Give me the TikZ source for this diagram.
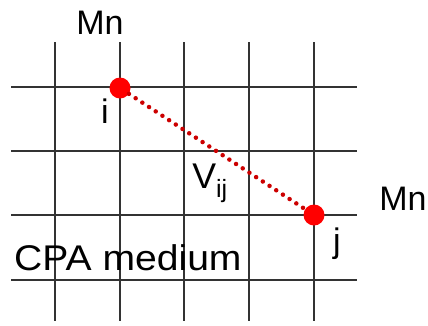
\documentclass[tikz,border=0pt]{standalone}
\usepackage{fontspec}
\setmainfont{Liberation Sans}
\begin{document}
\begin{tikzpicture}[x=1pt,y=-1pt,
  gridline/.style={line width=2pt,color=black!80},
  site/.style={circle,fill=red,inner sep=0pt,minimum size=21pt},
  lbl/.style={inner sep=0pt,font=\fontsize{34}{34}\selectfont},
  bond/.style={red!80!black,line width=4.5pt,line cap=round,dash pattern=on 0pt off 8pt}]
\useasboundingbox (0,0) rectangle (428,325);
\foreach \x in {55,120,184,249,314} \draw[gridline] (\x,42) -- (\x,321);
\foreach \y in {87,151,215,280} \draw[gridline] (11,\y) -- (357,\y);
\node[site] (i) at (120,88) {};
\node[site] (j) at (314,215) {};
\draw[bond] (i) -- (j);
\node[lbl] (mn1) at (100,23) {Mn};
\node[lbl] (mn2) at (403,199) {Mn};
\node[lbl] (li) at (105,111) {i};
\node[lbl] (lj) at (337,244) {j};
\node[lbl,anchor=west] (cpa) at (14,258) {\scalebox{1.15}[1.05]{CPA medium}};
\node[lbl] (v) at (210,183) {\scalebox{1.05}{V$_{\mathrm{ij}}$}};
\end{tikzpicture}
\end{document}
